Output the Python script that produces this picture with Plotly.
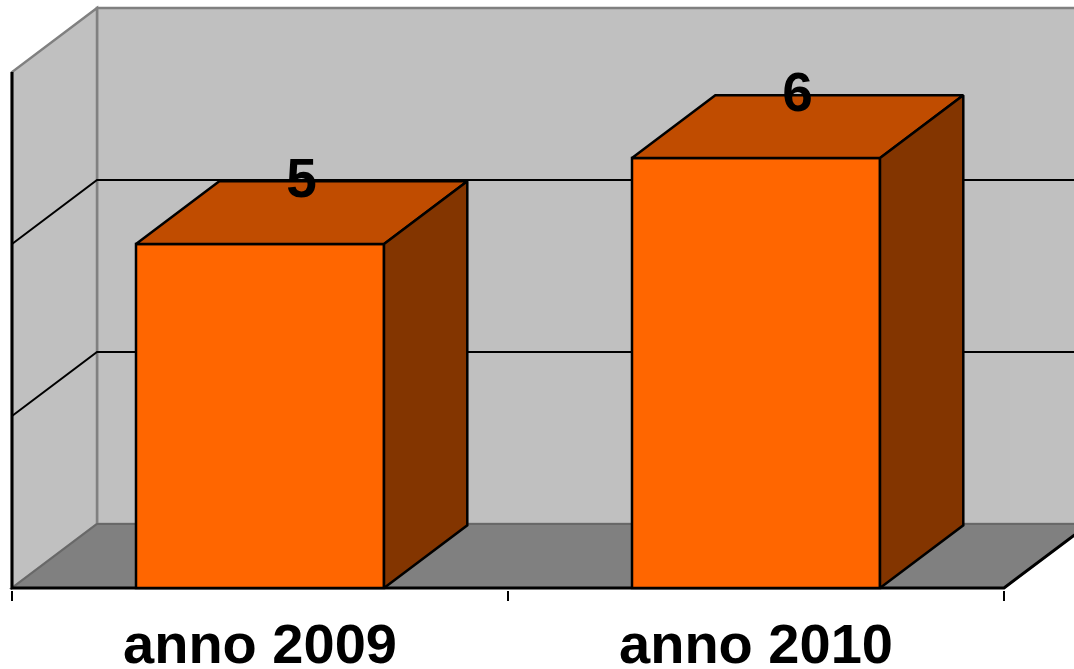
import plotly.graph_objects as go

# data
categories = ["anno 2009", "anno 2010"]
values = [5, 6]
y_min, y_max, y_step = 1, 7, 2

# geometry of the fake 3d box (axis units)
PX_X = 1 / 496   # category units per pixel
PX_Y = 1 / 86    # value units per pixel
x_lo, x_hi = -0.5, len(categories) - 0.5
DX = 85 * PX_X
DY = 64 * PX_Y
BAR_W = 0.5
BAR_D = 0.98

FRONT = "#FF6600"
TOP = "#C04C00"
SIDE = "#833500"
WALL = "#C0C0C0"
FLOOR = "#808080"
EDGE = "#808080"
FONT = "Liberation Sans"

W, H = 1074, 669

xs = list(range(len(categories)))


def line_shape(pts, color, width):
    path = "M " + " L ".join(f"{x},{y}" for x, y in pts)
    return dict(type="path", path=path, xref="x", yref="y", layer="below",
                line=dict(color=color, width=width))


def poly_shape(pts, fill, color, width):
    path = "M " + " L ".join(f"{x},{y}" for x, y in pts) + " Z"
    return dict(type="path", path=path, xref="x", yref="y", layer="below",
                fillcolor=fill, line=dict(color=color, width=width))


shapes = []
# back wall
shapes.append(poly_shape([(x_lo + DX, y_min + DY), (x_hi + DX, y_min + DY),
                          (x_hi + DX, y_max + DY), (x_lo + DX, y_max + DY)],
                         WALL, EDGE, 2.5))
# left wall
shapes.append(poly_shape([(x_lo, y_min), (x_lo + DX, y_min + DY),
                          (x_lo + DX, y_max + DY), (x_lo, y_max)],
                         WALL, EDGE, 2.5))
# floor
shapes.append(poly_shape([(x_lo, y_min), (x_hi, y_min),
                          (x_hi + DX, y_min + DY), (x_lo + DX, y_min + DY)],
                         FLOOR, "#686868", 2))
# gridlines on the walls
for v in range(y_min + y_step, y_max, y_step):
    shapes.append(line_shape([(x_lo, v), (x_lo + DX, v + DY), (x_hi + DX, v + DY)],
                             "black", 2))
# dark front edges
shapes.append(line_shape([(x_lo, y_max), (x_lo, y_min), (x_hi, y_min),
                          (x_hi + DX, y_min + DY)], "black", 3))

fig = go.Figure()

# front faces
fig.add_trace(go.Bar(
    x=xs, y=[v - y_min for v in values], base=y_min, width=BAR_W,
    marker=dict(color=FRONT, line=dict(color="black", width=2.5)),
    hoverinfo="skip", showlegend=False,
))

# top and side faces
ddx, ddy = DX * BAR_D, DY * BAR_D
top_x, top_y, side_x, side_y = [], [], [], []
for x, v in zip(xs, values):
    l, r = x - BAR_W / 2, x + BAR_W / 2
    top_x += [l, r, r + ddx, l + ddx, l, None]
    top_y += [v, v, v + ddy, v + ddy, v, None]
    side_x += [r, r + ddx, r + ddx, r, r, None]
    side_y += [y_min, y_min + ddy, v + ddy, v, y_min, None]

fig.add_trace(go.Scatter(x=top_x, y=top_y, mode="lines", fill="toself",
                         fillcolor=TOP, line=dict(color="black", width=2.5),
                         hoverinfo="skip", showlegend=False))
fig.add_trace(go.Scatter(x=side_x, y=side_y, mode="lines", fill="toself",
                         fillcolor=SIDE, line=dict(color="black", width=2.5),
                         hoverinfo="skip", showlegend=False))

# value labels
fig.add_trace(go.Scatter(
    x=[x + ddx / 2 for x in xs], y=[v + ddy - 2 * PX_Y for v in values],
    mode="text", text=[str(v) for v in values], textposition="middle center",
    textfont=dict(family=FONT, size=55, color="black", weight="bold"),
    hoverinfo="skip", showlegend=False, cliponaxis=False,
))

plot_bottom = 590
fig.update_layout(
    width=W, height=H,
    margin=dict(l=0, r=0, t=0, b=H - plot_bottom, autoexpand=False),
    paper_bgcolor="white", plot_bgcolor="white",
    shapes=shapes,
    xaxis=dict(
        range=[x_lo - 12 * PX_X, x_lo + (W - 12) * PX_X],
        automargin=False,
        tickmode="array", tickvals=xs, ticktext=categories,
        ticks="outside", ticklen=5, tickcolor="rgba(0,0,0,0)",
        ticklabelstandoff=0,
        tickfont=dict(family=FONT, size=56, color="black", weight="bold"),
        minor=dict(tickvals=[x_lo + i for i in range(len(categories) + 1)],
                   ticks="outside", ticklen=10, tickwidth=2, tickcolor="black"),
        showgrid=False, zeroline=False, showline=False, fixedrange=True,
    ),
    yaxis=dict(
        range=[y_min - 2 * PX_Y, y_min + (plot_bottom - 2) * PX_Y],
        automargin=False,
        showticklabels=False, showgrid=False, zeroline=False, showline=False,
        fixedrange=True,
    ),
)

# drop the default 8px page margin so the figure fills the window
fig.write_html("out.html", config={"displayModeBar": False},
               post_script="document.body.style.margin='0';"
                           "document.body.style.overflow='hidden';")
